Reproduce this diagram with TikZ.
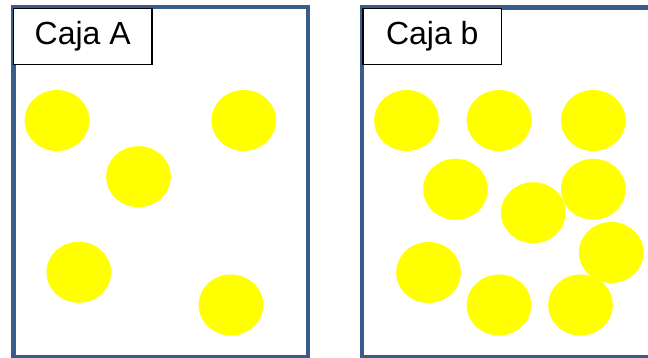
\documentclass[tikz,border=0pt]{standalone}
\usepackage{fontspec}
\setmainfont{Liberation Sans}
\usetikzlibrary{shapes.geometric}
\definecolor{boxblue}{RGB}{56,93,138}
\definecolor{ballyellow}{RGB}{255,255,0}
\tikzset{
  frame/.style={draw=boxblue, line width=4.5pt, line join=miter},
  ball/.style={ellipse, fill=ballyellow, draw=none, inner sep=0pt,
    minimum width=64.6pt, minimum height=61pt},
  labelbox/.style={rectangle, draw=black, fill=white, line width=1.6pt,
    inner sep=0pt, font=\fontsize{32}{34}\selectfont},
}
\begin{document}
\begin{tikzpicture}[x=1pt, y=-1pt]
\useasboundingbox (0,0) rectangle (648,358);
\fill[white] (0,0) rectangle (648,358);
% balls, box A
\node[ball] (a1) at (57,120.5) {};
\node[ball] (a2) at (243.8,120.5) {};
\node[ball] (a3) at (138.5,176.7) {};
\node[ball] (a4) at (78.8,272.3) {};
\node[ball] (a5) at (231,305) {};
% balls, box b
\node[ball] (b1) at (406.5,120.5) {};
\node[ball] (b2) at (499,120.5) {};
\node[ball] (b3) at (593.3,120.5) {};
\node[ball] (b4) at (455.5,189.3) {};
\node[ball] (b5) at (593.3,189.3) {};
\node[ball] (b6) at (533.3,212.7) {};
\node[ball] (b7) at (611.3,252.5) {};
\node[ball] (b8) at (428.5,272.5) {};
\node[ball] (b9) at (499,305) {};
\node[ball] (b10) at (580.5,305) {};
% frames
\draw[frame] (13.5,7) rectangle (308,357.5);
\draw[frame] (656,7.5) -- (362,7.5) -- (362,357.5) -- (656,357.5);
% labels
\node[labelbox, minimum width=138.5pt, minimum height=56pt] (labA) at (82.75,36.5) {Caja A\hspace{4.5pt}};
\node[labelbox, minimum width=138.5pt, minimum height=56pt] (labB) at (432.25,36.5) {Caja b\hspace{6.5pt}};
\end{tikzpicture}
\end{document}
